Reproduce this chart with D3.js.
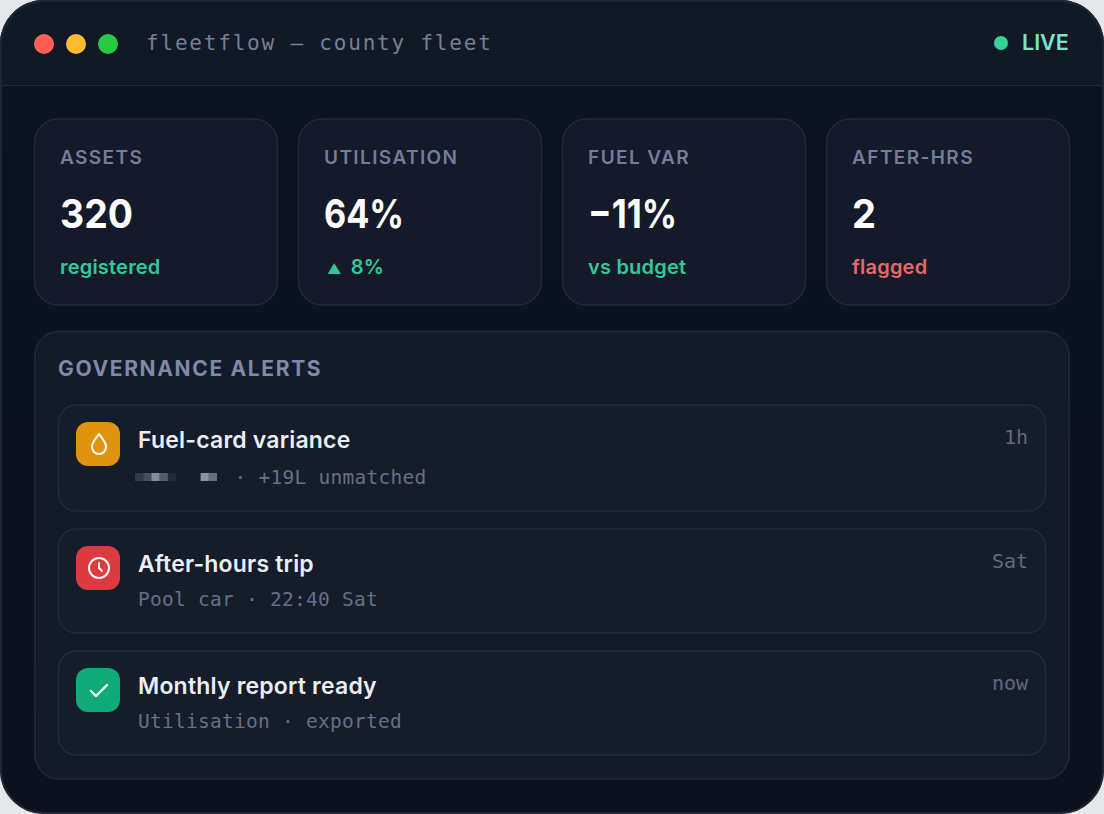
<!DOCTYPE html>
<html>
<head>
<meta charset="utf-8">
<script src="https://cdn.jsdelivr.net/npm/d3@7/dist/d3.min.js"></script>
<style>
html, body { margin: 0; padding: 0; background: #e6e7e8; overflow: hidden; }
svg { display: block; }
text { font-family: Inter, "Noto Sans", sans-serif; }
.mono { font-family: "DejaVu Sans Mono", "Liberation Mono", monospace; }
</style>
</head>
<body>
<svg></svg>
<script>
const windowTitle = "fleetflow — county fleet";
const liveLabel = "LIVE";
const trafficLights = ["#ff5f57", "#febc2e", "#28c840"];

const kpiLabels = ["ASSETS", "UTILISATION", "FUEL VAR", "AFTER-HRS"];
const kpiValues = ["320", "64%", "−11%", "2"];
const kpiNotes = ["registered", "8%", "vs budget", "flagged"];
const kpiNoteMarks = ["", "▲", "", ""];
const kpiNoteColors = ["#34c79a", "#34c79a", "#34c79a", "#e5686b"];

const panelTitle = "GOVERNANCE ALERTS";
const alertTitles = ["Fuel-card variance", "After-hours trip", "Monthly report ready"];
const alertSubs = ["· +19L unmatched", "Pool car · 22:40 Sat", "Utilisation · exported"];
const alertTimes = ["1h", "Sat", "now"];
const alertIcons = ["drop", "clock", "check"];
const alertColors = ["#e0930f", "#dc3c3f", "#10ab78"];

// the pixelated (redacted) name in the first alert, one opacity per block
const redactedBlocks = [0.2, 0.32, 0.75, 0.42, 0.1, 0, 0, 0, 0.8, 0.55];

const width = 1104, height = 814;

// layout, kept apart from the values above
const valueWidths = [73, 80, 89, 24];
const rowTops = [405, 529, 651];
const rowHeights = [106, 104, 104];

const svg = d3.select("svg").attr("width", width).attr("height", height);

const defs = svg.append("defs");
const bgGrad = defs.append("linearGradient").attr("id", "bg")
    .attr("x1", 0).attr("y1", 0).attr("x2", 0).attr("y2", 1);
bgGrad.append("stop").attr("offset", 0).attr("stop-color", "#0c1421");
bgGrad.append("stop").attr("offset", 1).attr("stop-color", "#0b121e");

// window
svg.append("rect")
    .attr("width", width).attr("height", height).attr("rx", 44)
    .attr("fill", "url(#bg)");
svg.append("path")
    .attr("d", "M0,85V44A44,44 0 0 1 44,0H1060A44,44 0 0 1 1104,44V85Z")
    .attr("fill", "#111927");
svg.append("rect")
    .attr("x", 1).attr("y", 1).attr("width", width - 2).attr("height", height - 2).attr("rx", 43)
    .attr("fill", "none").attr("stroke", "#1e2734").attr("stroke-width", 2);
svg.append("line")
    .attr("x1", 2).attr("x2", width - 2).attr("y1", 85.5).attr("y2", 85.5)
    .attr("stroke", "#222b3a");

// title bar
const lightX = d3.scalePoint().domain(d3.range(trafficLights.length)).range([44, 108]);
svg.selectAll(".light").data(trafficLights).join("circle")
    .attr("class", "light")
    .attr("cx", (d, i) => lightX(i)).attr("cy", 44).attr("r", 10)
    .attr("fill", d => d);

svg.append("text").attr("class", "mono")
    .attr("x", 146).attr("y", 50)
    .attr("font-size", 21).attr("letter-spacing", 1.8)
    .attr("fill", "#768094").text(windowTitle);

svg.append("circle").attr("cx", 1001).attr("cy", 43).attr("r", 7).attr("fill", "#34d399");
svg.append("text")
    .attr("x", 1022).attr("y", 50)
    .attr("font-size", 21.5).attr("font-weight", 600)
    .attr("fill", "#7ee0c6").text(liveLabel);

// KPI cards
const cardX = d3.scaleBand().domain(d3.range(kpiLabels.length))
    .range([34.5, 1069.5]).paddingInner(0.08);

const cards = svg.selectAll(".card").data(kpiLabels).join("g")
    .attr("class", "card")
    .attr("transform", (d, i) => "translate(" + cardX(i) + ",119)");

cards.append("rect")
    .attr("width", cardX.bandwidth()).attr("height", 186).attr("rx", 24)
    .attr("fill", "#141a29").attr("stroke", "#222a39").attr("stroke-width", 1.5);

cards.append("text")
    .attr("x", 25.5).attr("y", 45)
    .attr("font-size", 19).attr("font-weight", 600).attr("letter-spacing", 1.4)
    .attr("fill", "#747d9b").text(d => d);

cards.append("text")
    .attr("x", 25.5).attr("y", 109)
    .attr("font-size", 40).attr("font-weight", 700)
    .attr("textLength", (d, i) => valueWidths[i]).attr("lengthAdjust", "spacingAndGlyphs")
    .attr("fill", "#ffffff").text((d, i) => kpiValues[i]);

const notes = cards.append("text")
    .attr("x", 25.5).attr("y", 155)
    .attr("font-size", 20).attr("font-weight", 600).attr("letter-spacing", 0.2)
    .attr("fill", (d, i) => kpiNoteColors[i]);
notes.filter((d, i) => kpiNoteMarks[i]).append("tspan")
    .attr("font-size", 14).attr("dx", 3)
    .text(d => kpiNoteMarks[kpiLabels.indexOf(d)]);
notes.append("tspan")
    .attr("dx", (d, i) => kpiNoteMarks[i] ? 9 : 0)
    .text((d, i) => kpiNotes[i]);

// alerts panel
svg.append("rect")
    .attr("x", 35).attr("y", 331.5).attr("width", 1034).attr("height", 447.5).attr("rx", 24)
    .attr("fill", "#131a28").attr("stroke", "#222a39").attr("stroke-width", 1.5);

svg.append("text")
    .attr("x", 58).attr("y", 376)
    .attr("font-size", 21).attr("font-weight", 700).attr("letter-spacing", 1.65)
    .attr("fill", "#7f89a8").text(panelTitle);

const rows = svg.selectAll(".alert").data(alertTitles).join("g")
    .attr("class", "alert")
    .attr("transform", (d, i) => "translate(58.5," + rowTops[i] + ")");

rows.append("rect")
    .attr("width", 987).attr("height", (d, i) => rowHeights[i]).attr("rx", 18)
    .attr("fill", "#151c2a").attr("stroke", "#232c3b").attr("stroke-width", 1.5);

rows.append("rect")
    .attr("x", 17.5).attr("y", 17).attr("width", 44).attr("height", 44).attr("rx", 12)
    .attr("fill", (d, i) => alertColors[i]);

const icon = rows.append("g")
    .attr("transform", "translate(40.5,39)")
    .attr("fill", "none").attr("stroke", "#ffffff").attr("stroke-width", 2)
    .attr("stroke-linecap", "round").attr("stroke-linejoin", "round")
    .attr("opacity", 0.95);

icon.each(function(d, i) {
    const g = d3.select(this);
    if (alertIcons[i] === "drop") {
        g.append("path").attr("d", "M0,-10C3,-6 7,-2 7,3A7,7 0 0 1 -7,3C-7,-2 -3,-6 0,-10Z");
    } else if (alertIcons[i] === "clock") {
        g.append("circle").attr("r", 10);
        g.append("path").attr("d", "M0,-5V0L3,3");
    } else {
        g.append("path").attr("d", "M-8,1L-3,6L8,-5").attr("stroke-width", 2.4);
    }
});

rows.append("text")
    .attr("x", 79.5).attr("y", 43)
    .attr("font-size", 23).attr("font-weight", 600).attr("letter-spacing", 0.2)
    .attr("fill", "#e9edf6").text(d => d);

rows.append("text").attr("class", "mono")
    .attr("x", (d, i) => i === 0 ? 176 : 79.5).attr("y", (d, i) => i === 0 ? 79 : 77)
    .attr("font-size", 19.5).attr("letter-spacing", 0.26)
    .attr("fill", "#667087").text((d, i) => alertSubs[i]);

rows.append("text").attr("class", "mono")
    .attr("x", 969.5).attr("y", 39).attr("text-anchor", "end")
    .attr("font-size", 20).attr("fill", "#626b7d")
    .text((d, i) => alertTimes[i]);

// pixelated name
const blockX = d3.scaleBand().domain(d3.range(redactedBlocks.length)).range([135, 217]);
svg.selectAll(".block").data(redactedBlocks).join("rect")
    .attr("class", "block")
    .attr("x", (d, i) => blockX(i)).attr("y", 473)
    .attr("width", blockX.bandwidth()).attr("height", 8)
    .attr("fill", "#aab2c8").attr("opacity", d => d);
</script>
</body>
</html>
